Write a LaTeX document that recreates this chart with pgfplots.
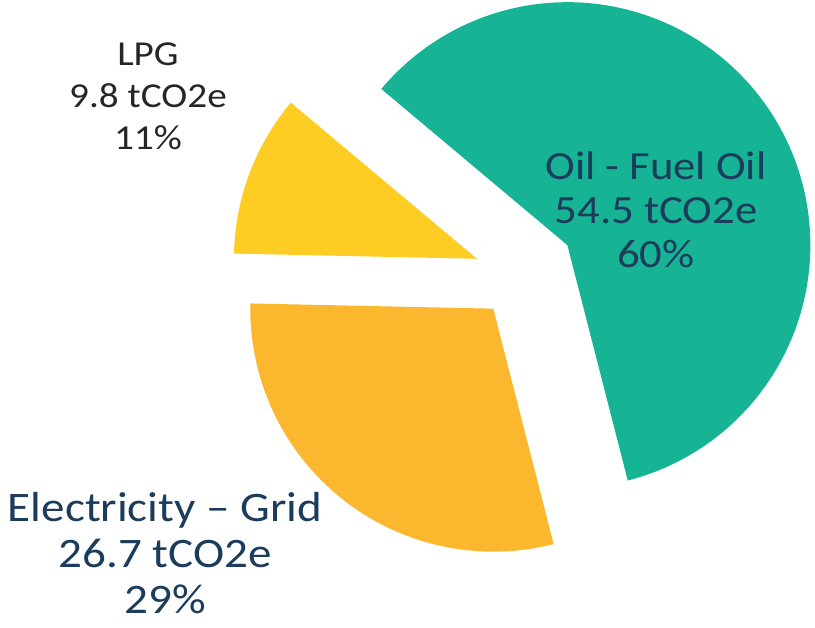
\documentclass[border=0pt]{standalone}
\usepackage{pgfplots}
\pgfplotsset{compat=1.18}
\usepackage{fontspec}
\setmainfont{Carlito}
\newfontfamily\lbl[FakeStretch=1.12]{Carlito}

\definecolor{oilgreen}{RGB}{22,180,149}
\definecolor{lpgyellow}{RGB}{253,205,36}
\definecolor{elecorange}{RGB}{251,183,45}
\definecolor{labnavy}{RGB}{28,60,92}
\definecolor{labdark}{RGB}{38,38,38}

\begin{document}
\begin{tikzpicture}
% emissions in tCO2e
\pgfmathsetmacro{\vLPG}{9.8}
\pgfmathsetmacro{\vElec}{26.7}
\pgfmathsetmacro{\vOil}{54.5}
\pgfmathsetmacro{\total}{\vLPG+\vElec+\vOil}
% slice angles, counter-clockwise from 140 deg
\pgfmathsetmacro{\aA}{140}
\pgfmathsetmacro{\aB}{\aA+360*(\vLPG/\total)}
\pgfmathsetmacro{\aC}{\aB+360*(\vElec/\total)}
\pgfmathsetmacro{\aD}{\aC+360*(\vOil/\total)}
% exploded slice centres (pie centre 520,353, radius 243)
\pgfmathsetmacro{\lx}{520+46*cos((\aA+\aB)/2)}
\pgfmathsetmacro{\ly}{353+46*sin((\aA+\aB)/2)}
\pgfmathsetmacro{\ex}{520+43*cos((\aB+\aC)/2)}
\pgfmathsetmacro{\ey}{353+43*sin((\aB+\aC)/2)}
\pgfmathsetmacro{\ox}{520+56*cos((\aC+\aD)/2)}
\pgfmathsetmacro{\oy}{353+56*sin((\aC+\aD)/2)}
\begin{axis}[
    width=815pt, height=628pt,
    scale only axis,
    xmin=0, xmax=815,
    ymin=0, ymax=628,
    hide axis,
    clip=false,
]
\path (axis cs:0,0) rectangle (axis cs:815,628);

\addplot[fill=lpgyellow, draw=none, domain=\aA:\aB, samples=60, variable=\t]
    ({\lx+243*cos(\t)}, {\ly+243*sin(\t)}) -- (axis cs:\lx,\ly) -- cycle;
\addplot[fill=elecorange, draw=none, domain=\aB:\aC, samples=90, variable=\t]
    ({\ex+243*cos(\t)}, {\ey+243*sin(\t)}) -- (axis cs:\ex,\ey) -- cycle;
\addplot[fill=oilgreen, draw=none, domain=\aC:\aD, samples=150, variable=\t]
    ({\ox+243*cos(\t)}, {\oy+243*sin(\t)}) -- (axis cs:\ox,\oy) -- cycle;

\node[anchor=north, inner sep=0pt, align=center, text=labdark,
      font=\lbl\fontsize{35}{42}\selectfont] at (axis cs:148,585)
    {LPG\\9.8 tCO2e\\11\%};
\node[anchor=north, inner sep=0pt, align=center, text=labnavy,
      font=\lbl\fontsize{40}{44}\selectfont] at (axis cs:656,476)
    {Oil - Fuel Oil\\54.5 tCO2e\\60\%};
\node[anchor=north, inner sep=0pt, align=center, text=labnavy,
      font=\lbl\fontsize{42}{46}\selectfont] at (axis cs:165,136)
    {Electricity – Grid\\26.7 tCO2e\\29\%};
\end{axis}
\end{tikzpicture}
\end{document}
